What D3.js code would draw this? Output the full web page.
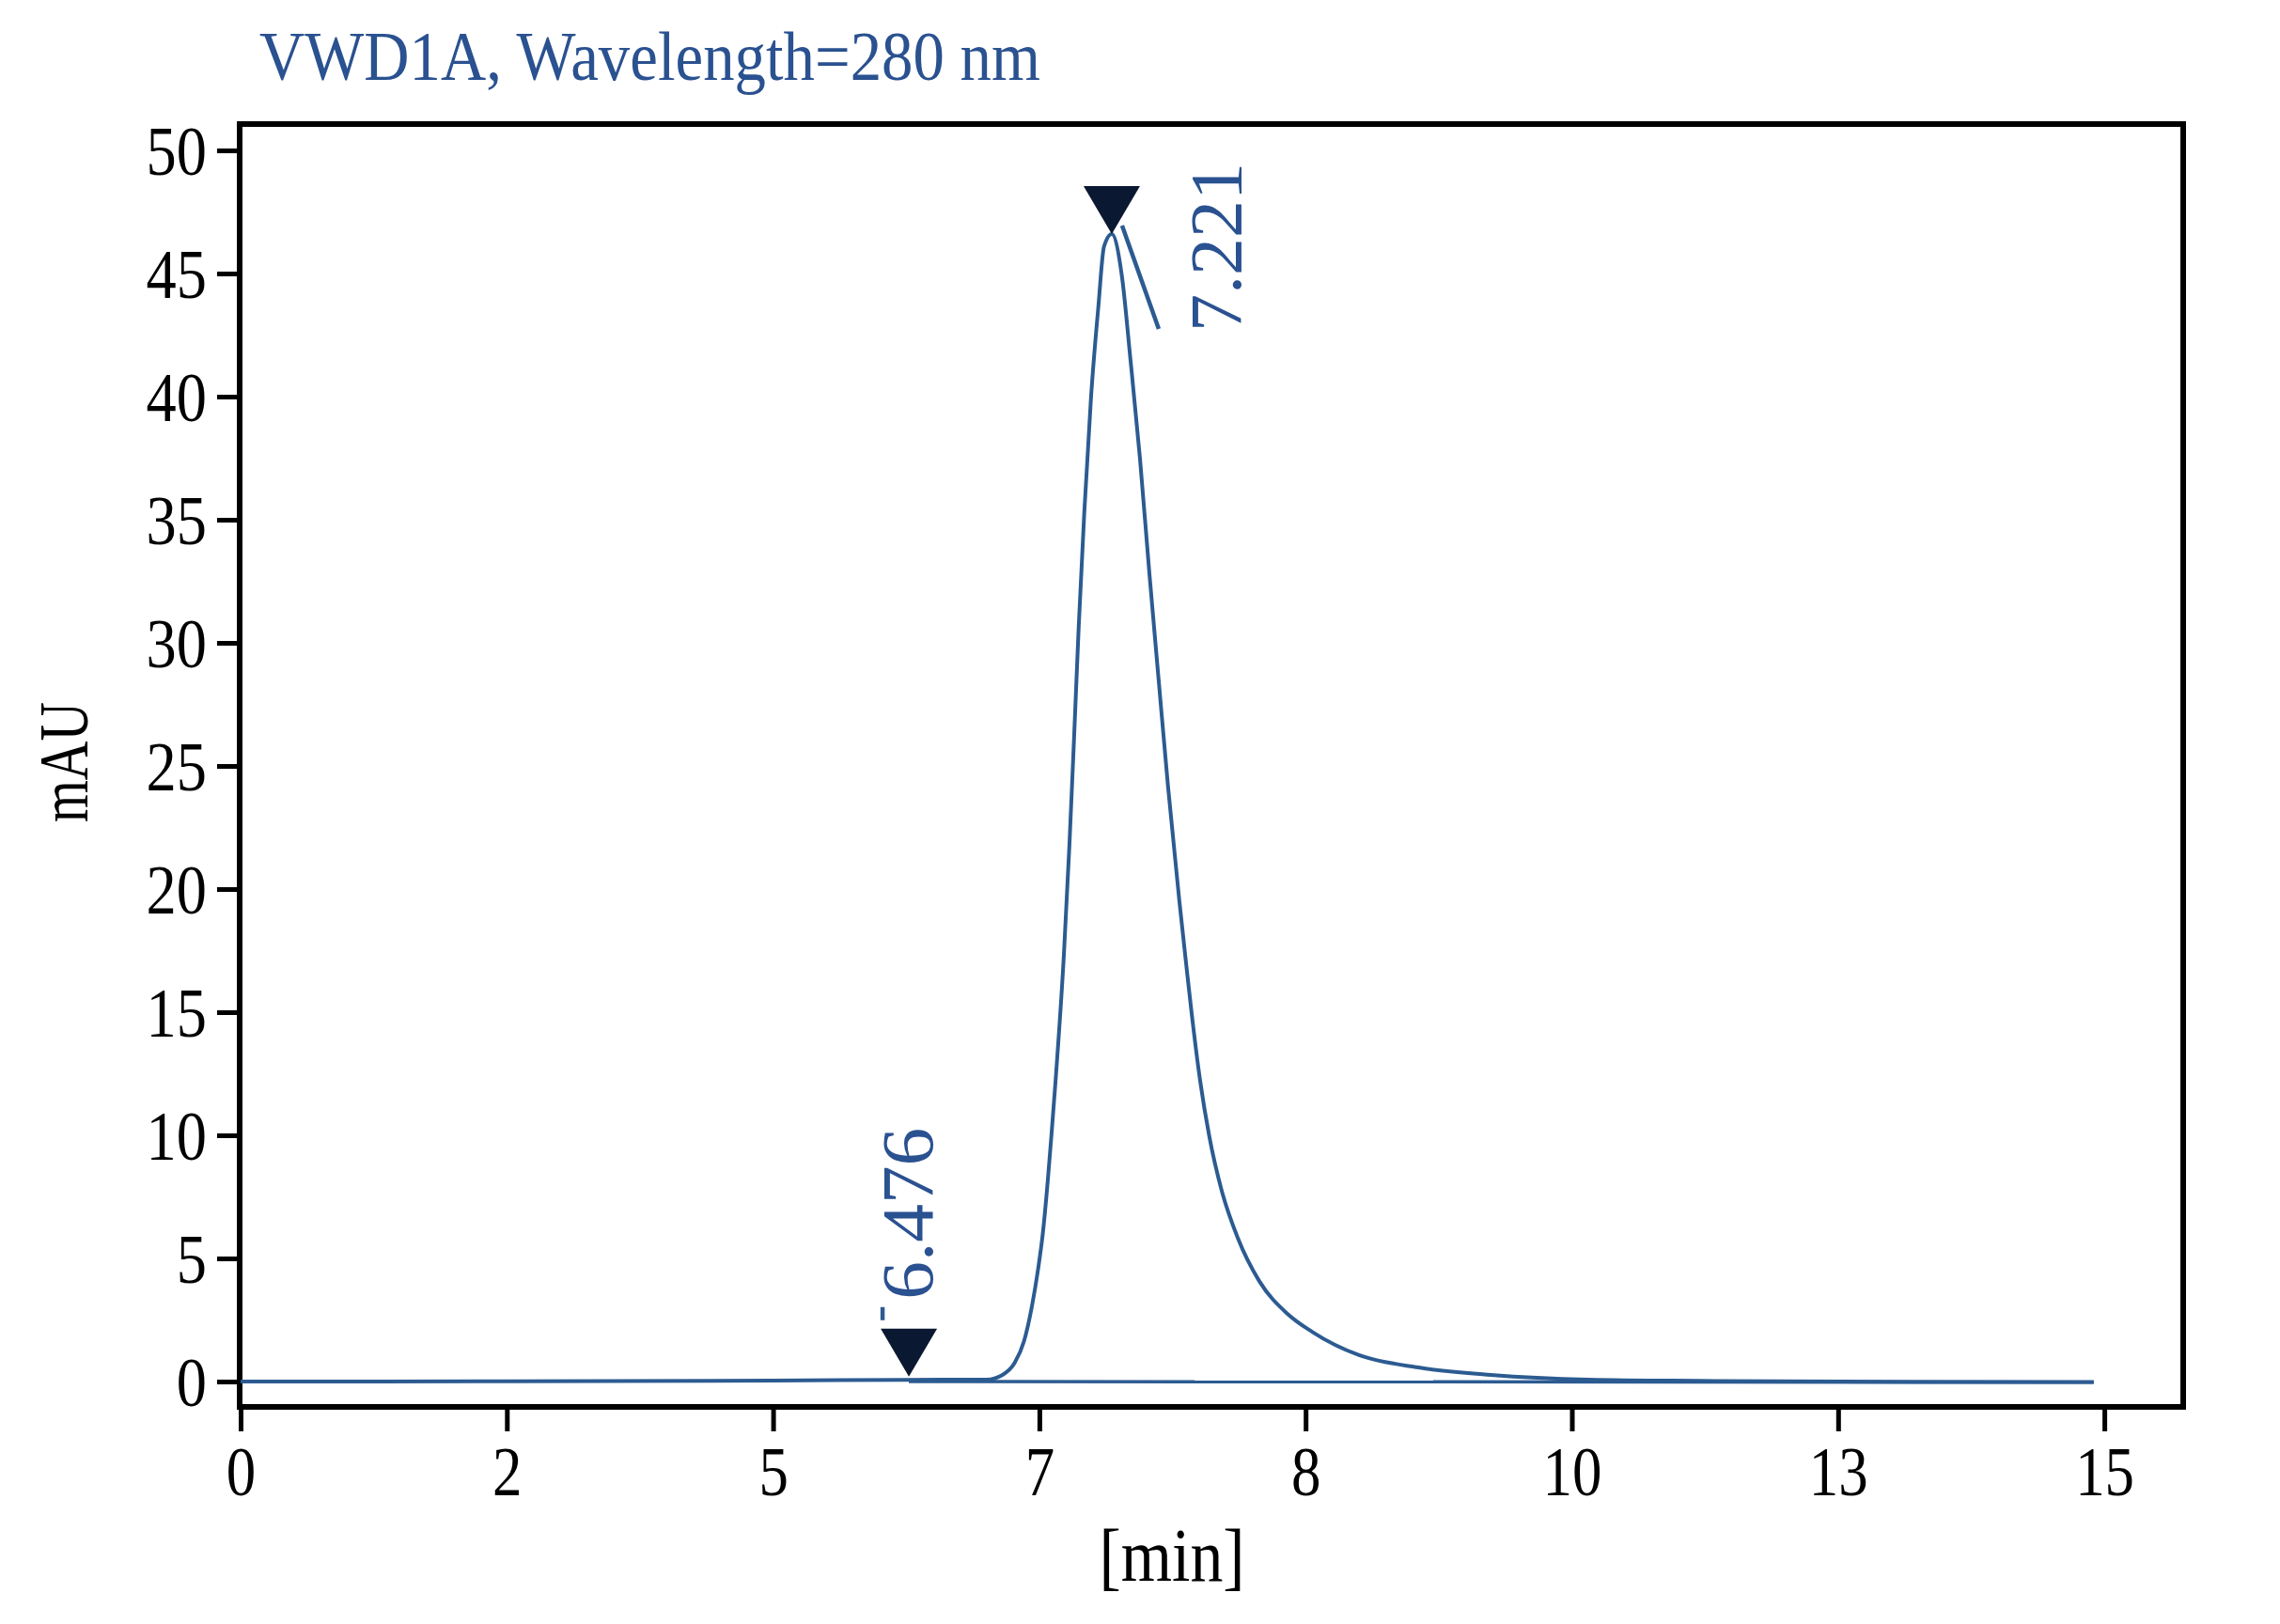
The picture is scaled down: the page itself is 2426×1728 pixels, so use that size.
<!DOCTYPE html>
<html lang="en">
<head>
<meta charset="UTF-8">
<title>VWD1A, Wavelength=280 nm</title>
<script src="https://d3js.org/d3.v7.min.js"></script>
<style>
    body { margin: 0; background: #fff; }
    text { font-family: "Liberation Serif", "Times New Roman", serif; }
</style>
</head>
<body>
<div id="chart"></div>
<script>
// retention time [min] and detector signal [mAU]
const timeMin = [0, 2, 5, 6.0, 6.4, 6.603, 6.723, 6.815, 6.885, 6.944,
    6.991, 7.014, 7.032, 7.046, 7.060, 7.092, 7.113, 7.131, 7.148, 7.169,
    7.194, 7.222, 7.243, 7.272, 7.31, 7.342, 7.378, 7.413, 7.448, 7.483,
    7.526, 7.551, 7.572, 7.604, 7.639, 7.685, 7.745, 7.826, 7.932, 8.049,
    8.402, 8.847, 9.391, 10.19, 11.67, 13.0, 14.92];
const signal = [0, 0.01, 0.04, 0.07, 0.08, 0.08, 0.27, 0.76, 1.64, 3.05,
    4.58, 6.11, 8.2, 10.08, 12.08, 17.3, 21.8, 26.3, 30.69, 35.34,
    39.96, 43.70, 46.1, 46.60, 44.9, 41.53, 37.48, 32.86, 28.51, 24.20,
    19.5, 17.0, 14.96, 12.21, 9.92, 7.75, 5.84, 4.08, 2.75, 2.02,
    1.07, 0.57, 0.27, 0.08, 0.02, 0.0, -0.02];

// integration baseline
const baseTime = [6.02, 14.92];
const baseValue = [0.0, -0.03];

// peak markers
const markTime = [6.02, 7.272];
const markValue = [0.2, 46.6];
const markLabels = ["6.476", "7.221"];

// axis ticks
const xTicks = [0, 2, 5, 7, 8, 10, 13, 15];
const yTicks = [0, 5, 10, 15, 20, 25, 30, 35, 40, 45, 50];

const W = 2426, H = 1728;
const frame = { left: 255, right: 2323, top: 132, bottom: 1497 };
const lineColor = "#2c5b91";
const textBlue = "#2a5190";

const svg = d3.select("#chart").append("svg")
    .attr("width", W)
    .attr("height", H);

// the printed time axis is evenly spaced between its labels
const x = d3.scaleLinear()
    .domain(xTicks)
    .range(xTicks.map((d, i) => 256 + i * 283.3));

const y = d3.scaleLinear()
    .domain([-1.03, 51.07])
    .range([frame.bottom, frame.top]);

// squeeze glyphs a bit, the original font is narrower than Times
function squeeze(sel, k) {
    sel.each(function() {
        const len = this.getComputedTextLength();
        d3.select(this)
            .attr("textLength", len * k)
            .attr("lengthAdjust", "spacingAndGlyphs");
    });
}

// axes
const yAxis = svg.append("g")
    .attr("transform", `translate(${frame.left},0)`)
    .call(d3.axisLeft(y).tickValues(yTicks).tickSize(24).tickPadding(11));

const xAxis = svg.append("g")
    .attr("transform", `translate(0,${frame.bottom})`)
    .call(d3.axisBottom(x).tickValues(xTicks).tickFormat(d3.format("d")).tickSize(26));

[yAxis, xAxis].forEach(ax => {
    ax.select(".domain").remove();
    ax.selectAll(".tick line").attr("stroke", "#000").attr("stroke-width", 5);
    ax.selectAll(".tick text")
        .attr("fill", "#000")
        .style("font-size", "74px")
        .style("font-family", '"Liberation Serif", serif');
});
xAxis.selectAll(".tick text").attr("y", 94).attr("dy", 0);
yAxis.selectAll(".tick text").attr("dy", "0.34em");
squeeze(yAxis.selectAll(".tick text"), 0.87);
squeeze(xAxis.selectAll(".tick text"), 0.85);

// frame
svg.append("rect")
    .attr("x", frame.left)
    .attr("y", frame.top)
    .attr("width", frame.right - frame.left)
    .attr("height", frame.bottom - frame.top)
    .attr("fill", "none")
    .attr("stroke", "#000")
    .attr("stroke-width", 6);

// baseline + trace
const line = d3.line()
    .x(d => x(d[0]))
    .y(d => y(d[1]))
    .curve(d3.curveMonotoneX);

svg.append("path")
    .datum(baseTime.map((t, i) => [t, baseValue[i]]))
    .attr("d", line)
    .attr("fill", "none")
    .attr("stroke", lineColor)
    .attr("stroke-width", 3.5);

svg.append("path")
    .datum(timeMin.map((t, i) => [t, signal[i]]))
    .attr("d", line)
    .attr("fill", "none")
    .attr("stroke", lineColor)
    .attr("stroke-width", 4)
    .attr("stroke-linejoin", "round");

// marker label placement relative to the triangle tip
const labelPos = [
    { dx: 25, dy: -82, len: 183, lead: [[-28, -74], [-28, -60]] },
    { dx: 137, dy: 104, len: 180, lead: [[11, -9], [50, 101]] }
];

const marks = svg.selectAll(".mark")
    .data(markTime.map((t, i) => ({ t: t, v: markValue[i], label: markLabels[i], p: labelPos[i] })))
    .enter()
    .append("g")
    .attr("class", "mark")
    .attr("transform", d => `translate(${x(d.t)},${y(d.v)})`);

marks.append("path")
    .attr("d", "M0,0 L-30,-51 L30,-51 Z")
    .attr("fill", "#0b1831");

marks.append("line")
    .attr("x1", d => d.p.lead[0][0])
    .attr("y1", d => d.p.lead[0][1])
    .attr("x2", d => d.p.lead[1][0])
    .attr("y2", d => d.p.lead[1][1])
    .attr("stroke", lineColor)
    .attr("stroke-width", 4.5);

marks.append("text")
    .attr("transform", d => `translate(${d.p.dx},${d.p.dy}) rotate(-90)`)
    .attr("fill", textBlue)
    .style("font-size", "78px")
    .attr("textLength", d => d.p.len)
    .attr("lengthAdjust", "spacingAndGlyphs")
    .text(d => d.label);

// titles
svg.append("text")
    .attr("x", 276)
    .attr("y", 85)
    .attr("fill", textBlue)
    .style("font-size", "75px")
    .attr("textLength", 831)
    .attr("lengthAdjust", "spacingAndGlyphs")
    .text("VWD1A, Wavelength=280 nm");

svg.append("text")
    .attr("transform", "translate(93,811) rotate(-90)")
    .attr("text-anchor", "middle")
    .attr("fill", "#000")
    .style("font-size", "75px")
    .attr("textLength", 128)
    .attr("lengthAdjust", "spacingAndGlyphs")
    .text("mAU");

svg.append("text")
    .attr("x", 1247)
    .attr("y", 1682)
    .attr("text-anchor", "middle")
    .attr("fill", "#000")
    .style("font-size", "80px")
    .attr("textLength", 155)
    .attr("lengthAdjust", "spacingAndGlyphs")
    .text("[min]");
</script>
</body>
</html>
